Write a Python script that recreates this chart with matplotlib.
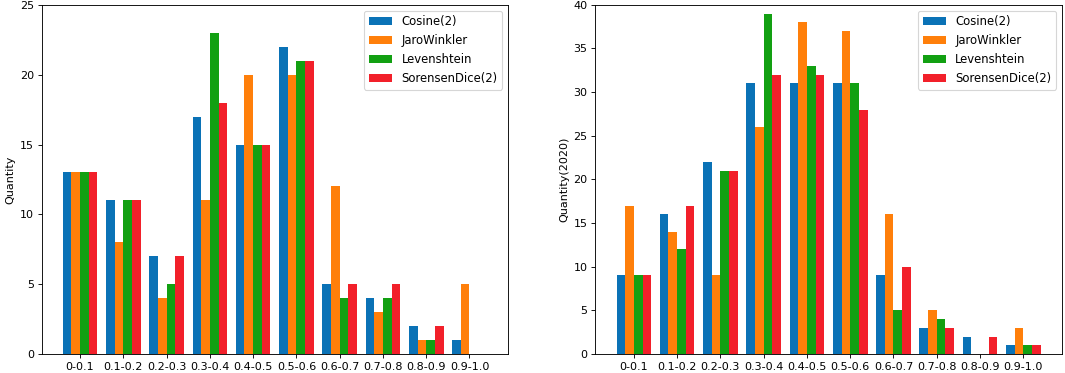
import numpy as np
import matplotlib
matplotlib.use("Agg")
import matplotlib.pyplot as plt

bins = ["0-0.1", "0.1-0.2", "0.2-0.3", "0.3-0.4", "0.4-0.5",
        "0.5-0.6", "0.6-0.7", "0.7-0.8", "0.8-0.9", "0.9-1.0"]
methods = ["Cosine(2)", "JaroWinkler", "Levenshtein", "SorensenDice(2)"]
colors = ["#0a72b6", "#ff7f0a", "#12a012", "#f2202a"]

# left panel
cosine_a = [13, 11, 7, 17, 15, 22, 5, 4, 2, 1]
jaro_a = [13, 8, 4, 11, 20, 20, 12, 3, 1, 5]
leven_a = [13, 11, 5, 23, 15, 21, 4, 4, 1, 0]
soren_a = [13, 11, 7, 18, 15, 21, 5, 5, 2, 0]

# right panel (2020)
cosine_b = [9, 16, 22, 31, 31, 31, 9, 3, 2, 1]
jaro_b = [17, 14, 9, 26, 38, 37, 16, 5, 0, 3]
leven_b = [9, 12, 21, 39, 33, 31, 5, 4, 0, 1]
soren_b = [9, 17, 21, 32, 32, 28, 10, 3, 2, 1]

# rendered at dpi 80 so that fonts / ticks shrink like the reference
DPI = 80
fig = plt.figure(figsize=(1065 / DPI, 373 / DPI), dpi=DPI)
ax1 = fig.add_axes([0.039, 0.051, 0.438, 0.936])
ax2 = fig.add_axes([0.559, 0.051, 0.438, 0.936])

x = np.arange(len(bins))
w = 0.2


def draw(ax, series, ylabel, ymax):
    for i, (vals, name, c) in enumerate(zip(series, methods, colors)):
        ax.bar(x + (i - 1.5) * w, vals, width=w, color=c, label=name)
    ax.set_xticks(x)
    ax.set_xticklabels(bins)
    ax.set_ylim(0, ymax)
    ax.set_ylabel(ylabel)
    ax.legend(loc="upper right", fontsize=10.5)


draw(ax1, [cosine_a, jaro_a, leven_a, soren_a], "Quantity", 25)
draw(ax2, [cosine_b, jaro_b, leven_b, soren_b], "Quantity(2020)", 40)

fig.savefig("out.png", dpi=DPI)
